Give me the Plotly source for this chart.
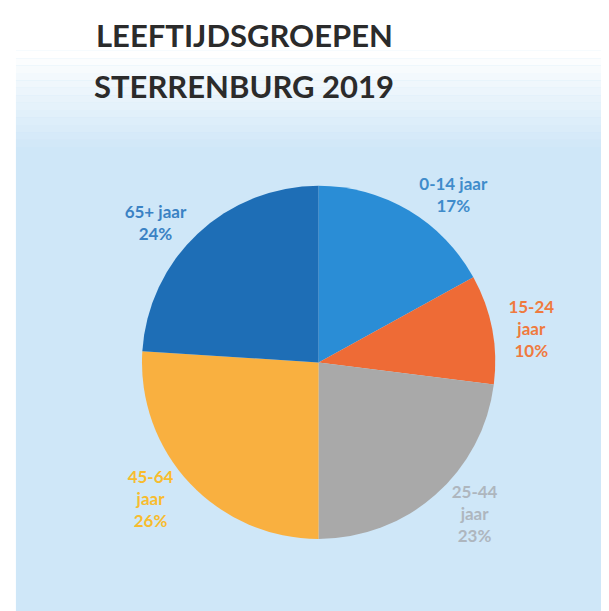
import plotly.graph_objects as go

# Data
categories = ["0-14 jaar", "15-24 jaar", "25-44 jaar", "45-64 jaar", "65+ jaar"]
label_text = ["0-14 jaar", "15-24<br>jaar", "25-44<br>jaar", "45-64<br>jaar", "65+ jaar"]
values = [17, 10, 23, 26, 24]

slice_colors = ["#2A8DD6", "#EE6B36", "#A9A9A9", "#F9B040", "#1E6EB6"]
label_colors = ["#3F8CCB", "#EF7A3E", "#AEB6BE", "#F8BC2E", "#3A82C4"]

W, H = 609, 611

fig = go.Figure()

fig.add_trace(go.Pie(
    labels=categories,
    values=values,
    customdata=label_text,
    sort=False,
    direction="clockwise",
    rotation=0,
    marker=dict(colors=slice_colors, line=dict(width=0)),
    texttemplate="%{customdata}<br>%{percent:.0%}",
    textposition="outside",
    textfont=dict(family="Lato", size=17, color=label_colors, weight="bold"),
    outsidetextfont=dict(family="Lato", size=17, color=label_colors, weight="bold"),
    hoverinfo="label+percent",
    domain=dict(x=[0.22, 0.80], y=[0.12, 0.72]),
    showlegend=False,
))

# background gradient bands (white at top fading to light blue)
base = (207, 231, 248)
shapes = []
n = 14
top0, top1 = 0.93, 0.76
for i in range(n):
    t = i / (n - 1)
    y_hi = top0 - (top0 - top1) * i / n
    y_lo = top0 - (top0 - top1) * (i + 1) / n
    r = int(255 + (base[0] - 255) * t)
    g = int(255 + (base[1] - 255) * t)
    b = int(255 + (base[2] - 255) * t)
    shapes.append(dict(type="rect", xref="paper", yref="paper", x0=0, x1=1,
                       y0=y_lo, y1=y_hi, fillcolor=f"rgb({r},{g},{b})",
                       line=dict(width=0), layer="below"))
shapes.append(dict(type="rect", xref="paper", yref="paper", x0=0, x1=1,
                   y0=top0, y1=1, fillcolor="white", line=dict(width=0), layer="below"))
shapes.append(dict(type="rect", xref="paper", yref="paper", x0=0, x1=0.013,
                   y0=0, y1=1, fillcolor="white", line=dict(width=0), layer="below"))
shapes.append(dict(type="rect", xref="paper", yref="paper", x0=0, x1=1,
                   y0=0, y1=0.01, fillcolor="white", line=dict(width=0), layer="below"))

title_lines = ["LEEFTIJDSGROEPEN", "STERRENBURG 2019"]
annotations = []
for i, line in enumerate(title_lines):
    annotations.append(dict(
        text=f"<b>{line}</b>", xref="paper", yref="paper",
        x=236 / W, y=1 - (27 + 51 * i) / H, xanchor="center", yanchor="middle",
        showarrow=False, font=dict(family="Lato", size=31, color="#2B2B2B"),
    ))

fig.update_layout(
    width=W, height=H,
    margin=dict(l=0, r=0, t=0, b=0),
    paper_bgcolor="rgb(207,231,248)",
    plot_bgcolor="rgb(207,231,248)",
    shapes=shapes,
    annotations=annotations,
)

fig.write_html("out.html")
